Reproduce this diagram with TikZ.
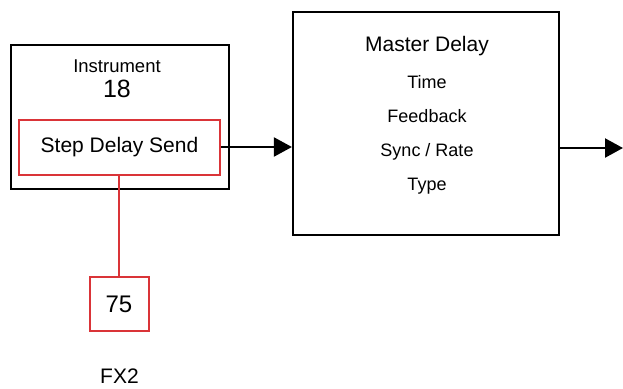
\documentclass[tikz,border=0pt]{standalone}
\usepackage{fontspec}
\setmainfont{Liberation Sans}
\usetikzlibrary{arrows.meta}
\definecolor{boxred}{RGB}{218,52,56}
\tikzset{
  blackbox/.style={draw=black, line width=2.2pt, minimum width=#1, inner sep=0pt},
  redbox/.style={draw=boxred, line width=2pt, inner sep=0pt},
  lbl/.style={anchor=base, inner sep=0pt},
  flow/.style={draw=black, line width=2.2pt, -{Triangle[length=18pt,width=19pt]}},
  redline/.style={draw=boxred, line width=2pt},
  fs/.style={font=\fontsize{#1}{#1}\selectfont}
}
\begin{document}
\begin{tikzpicture}[x=1pt,y=-1pt]
\useasboundingbox (0,0) rectangle (623,388);
% Instrument box
\node[blackbox=218pt, minimum height=144pt] (inst) at (120,117) {};
\node[lbl, fs=18.5] (insttxt) at (117,72.3) {Instrument};
\node[lbl, fs=25] (instnum) at (117,97.3) {18};
\node[redbox, minimum width=201pt, minimum height=55pt, fs=21] (send) at (119.5,147) {Step Delay Send};
% Master delay
\node[blackbox=266pt, minimum height=223pt] (master) at (426,123.5) {};
\node[lbl, fs=21] (mtitle) at (427,51.7) {Master Delay};
\node[lbl, fs=18] (mtime) at (427,88.3) {Time};
\node[lbl, fs=18] (mfb) at (427,122.7) {Feedback};
\node[lbl, fs=18] (msync) at (427,156.7) {Sync / Rate};
\node[lbl, fs=18] (mtype) at (427,190) {Type};
% FX2 box
\node[redbox, minimum width=59pt, minimum height=54pt, fs=24] (fx) at (119,304) {75};
\node[lbl, fs=21] (fxlbl) at (119.5,383) {FX2};
% connectors
\coordinate (out) at (623,148);
\draw[flow] (send.east) -- (send.east -| master.west);
\draw[flow] (master.east |- out) -- (out);
\draw[redline] (send.south -| fx.north) -- (fx.north);
\end{tikzpicture}
\end{document}
